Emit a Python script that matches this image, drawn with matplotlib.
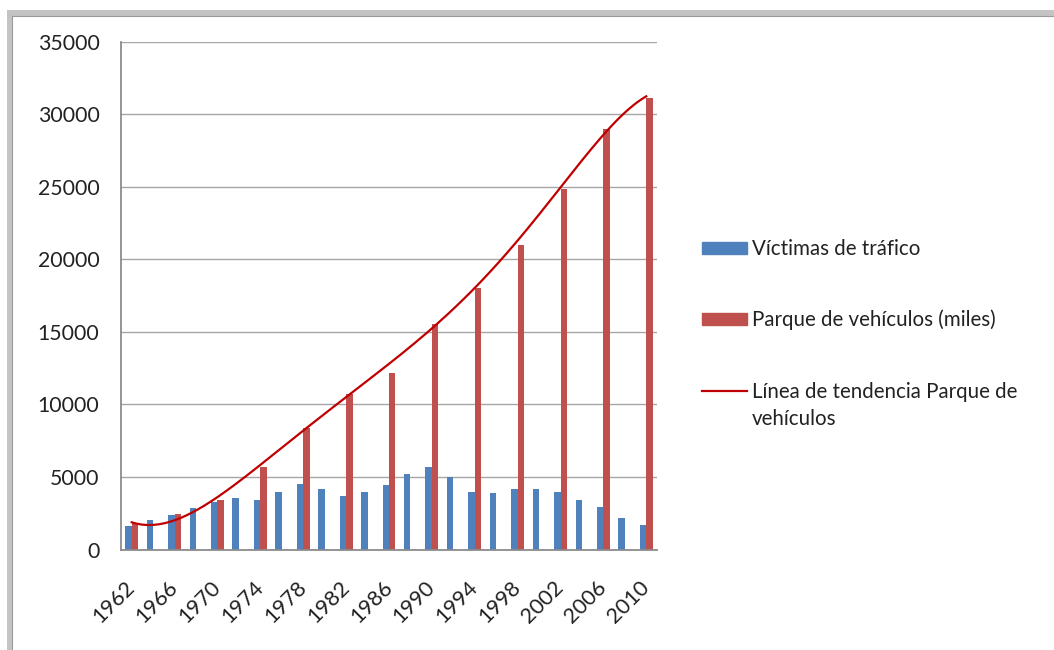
import matplotlib.pyplot as plt
from matplotlib.lines import Line2D
from matplotlib.patches import Rectangle
import numpy as np

years = list(range(1962, 2011, 2))
victimas = [1600, 2000, 2400, 2850, 3250, 3570, 3400, 3950, 4500, 4200,
            3700, 3950, 4420, 5200, 5700, 5000, 3950, 3870, 4180, 4180,
            3950, 3400, 2930, 2150, 1660]
# parque de vehiculos (miles), solo cada cuatro años
parque_years = list(range(1962, 2011, 4))
parque = [1850, 2450, 3400, 5680, 8370, 10720, 12150, 15550, 18000,
          21000, 24820, 29000, 31100]
# valores de la línea de tendencia en cada año de la serie
tendencia = [1870, 1700, 2040, 2680, 3540, 4750, 5840, 7000, 8200, 9380,
             10480, 11600, 12800, 14000, 15260, 16640, 18000, 19550, 21300,
             23050, 25000, 26850, 28600, 30050, 31260]
tick_labels = [str(y) for y in parque_years]

W, H = 1054, 650
fig = plt.figure(figsize=(W / 100, H / 100), dpi=100)
plt.rcParams['font.family'] = ['Lato', 'DejaVu Sans']


def fx(px):
    return px / W


def fy(py):
    return 1 - py / H


ax = fig.add_axes([fx(121), fy(549.5), fx(657) - fx(121), fy(41.7) - fy(549.5)])

x = np.arange(len(years))
xp = np.array([years.index(y) for y in parque_years])
w = 0.3
ax.bar(x - w / 2, victimas, w, color='#4F81BD', zorder=2)
ax.bar(xp + w / 2, parque, w, color='#C0504D', zorder=2)

# curva suave de la tendencia (polinomio de grado 6)
coef = np.polyfit(x, tendencia, 6)
xs = np.linspace(0, len(years) - 1, 300)
ax.plot(xs, np.polyval(coef, xs), color='#C00000', lw=1.6, zorder=3)

ax.set_xlim(-0.5, len(years) - 0.5)
ax.set_ylim(0, 35000)
ax.set_yticks(range(0, 35001, 5000))
ax.set_xticks(xp)
ax.set_xticklabels(tick_labels)
ax.yaxis.grid(True, color='#A6A6A6', lw=1)
ax.set_axisbelow(True)
for s in ['top', 'right']:
    ax.spines[s].set_visible(False)
for s in ['left', 'bottom']:
    ax.spines[s].set_color('#8C8C8C')
    ax.spines[s].set_linewidth(1.3)
ax.tick_params(axis='y', length=0, pad=15.5, labelsize=15.3, labelcolor='#222222')
ax.tick_params(axis='x', length=0, pad=25, labelsize=15.6, labelcolor='#222222')
plt.setp(ax.get_xticklabels(), rotation=45, ha='right', va='center',
         rotation_mode='anchor')

# leyenda
lx0, lx1 = 701.7, 747.3
fig.add_artist(Rectangle((fx(lx0), fy(254)), fx(lx1) - fx(lx0), fy(242) - fy(254),
                         transform=fig.transFigure, color='#4F81BD'))
fig.add_artist(Rectangle((fx(lx0), fy(325)), fx(lx1) - fx(lx0), fy(313) - fy(325),
                         transform=fig.transFigure, color='#C0504D'))
fig.add_artist(Line2D([fx(lx0), fx(lx1)], [fy(391), fy(391)],
                      transform=fig.transFigure, color='#C00000', lw=1.6))
legend_font = dict(fontsize=14.8, color='#222222', va='baseline', ha='left')
fig.text(fx(752), fy(255), 'Víctimas de tráfico', **legend_font)
fig.text(fx(752), fy(326), 'Parque de vehículos (miles)', **legend_font)
fig.text(fx(752), fy(425), 'Línea de tendencia Parque de\nvehículos',
         linespacing=1.42, **legend_font)

# marco gris
fig.add_artist(Line2D([fx(9.5), 1], [fy(13), fy(13)], transform=fig.transFigure,
                      color='#C4C4C4', lw=4.3))
fig.add_artist(Line2D([fx(9.5), fx(9.5)], [fy(13), 0], transform=fig.transFigure,
                      color='#C4C4C4', lw=4.3))
fig.add_artist(Line2D([fx(11.5), 1], [fy(15.5), fy(15.5)], transform=fig.transFigure,
                      color='#9A9A9A', lw=0.8))
fig.add_artist(Line2D([fx(11.5), fx(11.5)], [fy(15.5), 0], transform=fig.transFigure,
                      color='#9A9A9A', lw=0.8))

fig.savefig('out.png', dpi=100)
